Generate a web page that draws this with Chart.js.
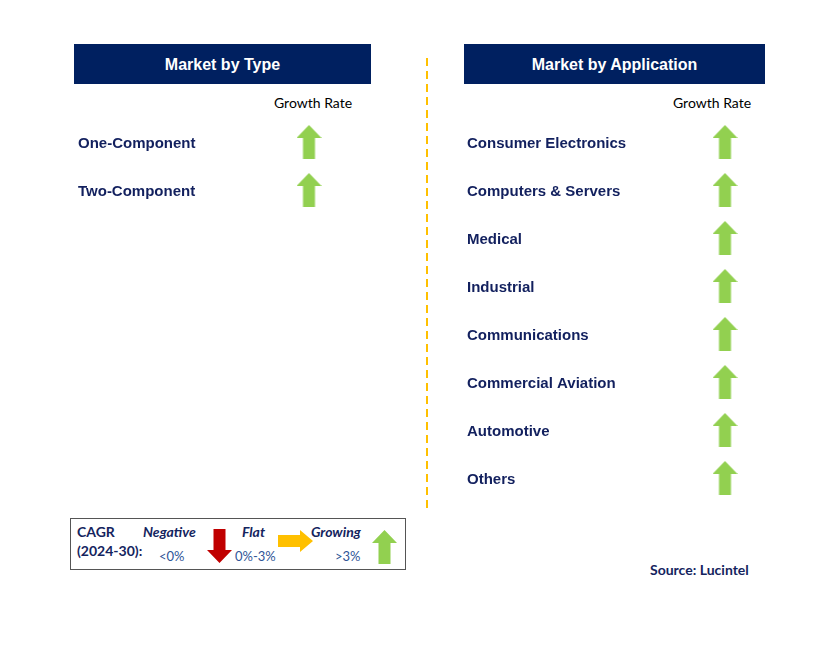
<!DOCTYPE html>
<html>
<head>
<meta charset="utf-8">
<script src="https://cdn.jsdelivr.net/npm/chart.js@4/dist/chart.umd.min.js"></script>
<style>
  body { margin: 0; width: 829px; height: 649px; background: #fff; position: relative; overflow: hidden; }
  .abs { position: absolute; }
  .header { background: #002060; color: #fff; font: bold 16px "Liberation Sans", Arial, sans-serif;
            text-align: center; line-height: 41px; height: 40px; }
  .growth { font: 14px Lato, "Open Sans", sans-serif; color: #000; white-space: nowrap; }
  .legend-box { border: 1px solid #555; }
  .lg { font: bold 14px Lato, sans-serif; color: #14245e; white-space: nowrap; }
  .lgi { font: italic bold 14px Lato, sans-serif; color: #14245e; white-space: nowrap; }
  .lgv { font: 13px Lato, sans-serif; color: #2f5597; white-space: nowrap; }
</style>
</head>
<body>

<div class="abs header" style="left:74px; top:44px; width:297px;">Market by Type</div>
<div class="abs header" style="left:464px; top:44px; width:301px;">Market by Application</div>

<div class="abs growth" style="left:274px; top:94px;">Growth Rate</div>
<div class="abs growth" style="left:673px; top:94px;">Growth Rate</div>

<svg class="abs" style="left:420px; top:50px;" width="14" height="470">
  <line x1="7" y1="8" x2="7" y2="458" stroke="#FFC000" stroke-width="2" stroke-dasharray="8 5"/>
</svg>

<canvas id="typeChart" class="abs" style="left:78px; top:109px;"></canvas>
<canvas id="appChart" class="abs" style="left:467px; top:109px;"></canvas>

<div class="abs legend-box" style="left:70px; top:518px; width:334px; height:50px;"></div>
<div class="abs lg" style="left:77px; top:523px;">CAGR</div>
<div class="abs lg" style="left:77px; top:542px;">(2024-30):</div>
<div class="abs lgi" style="left:143px; top:523px;">Negative</div>
<div class="abs lgv" style="left:159px; top:548px;">&lt;0%</div>
<div class="abs lgi" style="left:242px; top:523px;">Flat</div>
<div class="abs lgv" style="left:235px; top:548px;">0%-3%</div>
<div class="abs lgi" style="left:311px; top:523px;">Growing</div>
<div class="abs lgv" style="left:335px; top:548px;">&gt;3%</div>
<div id="legendArrows"></div>

<div class="abs lg" style="left:650px; top:561px;">Source: Lucintel</div>

<script>
// Segment names and their CAGR outlook
const typeSegments = ['One-Component', 'Two-Component'];
const typeGrowth = ['Growing', 'Growing'];

const appSegments = ['Consumer Electronics', 'Computers & Servers', 'Medical', 'Industrial',
                     'Communications', 'Commercial Aviation', 'Automotive', 'Others'];
const appGrowth = ['Growing', 'Growing', 'Growing', 'Growing', 'Growing', 'Growing', 'Growing', 'Growing'];

const growthColumn = ['Growth Rate'];

// Legend entries: outlook -> arrow direction and colour
const legendOutlooks = ['Negative', 'Flat', 'Growing'];
const legendDirections = ['down', 'right', 'up'];
const legendColors = ['#C00000', '#FFC000', '#92D050'];

// Draw a block arrow on a small canvas, used as a point style
function makeArrow(dir, color) {
    const c = document.createElement('canvas');
    const horizontal = dir === 'right';
    const w = horizontal ? 35 : 25;
    const h = horizontal ? 22 : 34;
    c.width = w;
    c.height = h;
    const ctx = c.getContext('2d');
    ctx.fillStyle = color;
    ctx.beginPath();
    if (dir === 'up') {
        ctx.moveTo(w / 2, 0);
        ctx.lineTo(w, 13);
        ctx.lineTo(w / 2 + 6, 13);
        ctx.lineTo(w / 2 + 6, h);
        ctx.lineTo(w / 2 - 6, h);
        ctx.lineTo(w / 2 - 6, 13);
        ctx.lineTo(0, 13);
    } else if (dir === 'down') {
        ctx.moveTo(w / 2, h);
        ctx.lineTo(w, h - 13);
        ctx.lineTo(w / 2 + 6, h - 13);
        ctx.lineTo(w / 2 + 6, 0);
        ctx.lineTo(w / 2 - 6, 0);
        ctx.lineTo(w / 2 - 6, h - 13);
        ctx.lineTo(0, h - 13);
    } else {
        ctx.moveTo(w, h / 2);
        ctx.lineTo(w - 13, 0);
        ctx.lineTo(w - 13, h / 2 - 6);
        ctx.lineTo(0, h / 2 - 6);
        ctx.lineTo(0, h / 2 + 6);
        ctx.lineTo(w - 13, h / 2 + 6);
        ctx.lineTo(w - 13, h);
    }
    ctx.closePath();
    ctx.fill();
    return c;
}

const arrowImages = {};
legendOutlooks.forEach((o, i) => {
    arrowImages[o] = makeArrow(legendDirections[i], legendColors[i]);
});

// One panel: category labels on the y axis, arrows in the growth column
// (the scale keeps ~9px above and below for the first/last tick label)
function buildPanel(canvasId, segments, growth, labelWidth, width) {
    const canvas = document.getElementById(canvasId);
    canvas.width = width;
    canvas.height = segments.length * 48 + 18;

    return new Chart(canvas, {
        type: 'scatter',
        data: {
            datasets: [{
                data: segments.map((s, i) => ({ x: growthColumn[0], y: s })),
                pointStyle: growth.map(g => arrowImages[g]),
                radius: 10
            }]
        },
        options: {
            responsive: false,
            animation: false,
            layout: { padding: 0, autoPadding: false },
            plugins: {
                legend: { display: false },
                tooltip: { enabled: false }
            },
            scales: {
                x: {
                    type: 'category',
                    labels: growthColumn,
                    offset: true,
                    display: false
                },
                y: {
                    type: 'category',
                    labels: segments,
                    offset: true,
                    grid: { display: false },
                    border: { display: false },
                    ticks: {
                        crossAlign: 'far',
                        padding: 0,
                        labelOffset: 2,
                        color: '#12205e',
                        font: { family: '"Liberation Sans", Arial, sans-serif', size: 15, weight: 'bold' }
                    },
                    afterFit: function(scale) {
                        scale.width = labelWidth;
                    }
                }
            }
        }
    });
}

buildPanel('typeChart', typeSegments, typeGrowth, 200, 262);
buildPanel('appChart', appSegments, appGrowth, 228, 288);

// Legend arrows
const legendPos = [[207, 529], [278, 530], [372, 530]];
const holder = document.getElementById('legendArrows');
legendOutlooks.forEach((o, i) => {
    const img = makeArrow(legendDirections[i], legendColors[i]);
    img.className = 'abs';
    img.style.left = legendPos[i][0] + 'px';
    img.style.top = legendPos[i][1] + 'px';
    holder.appendChild(img);
});
</script>
</body>
</html>
